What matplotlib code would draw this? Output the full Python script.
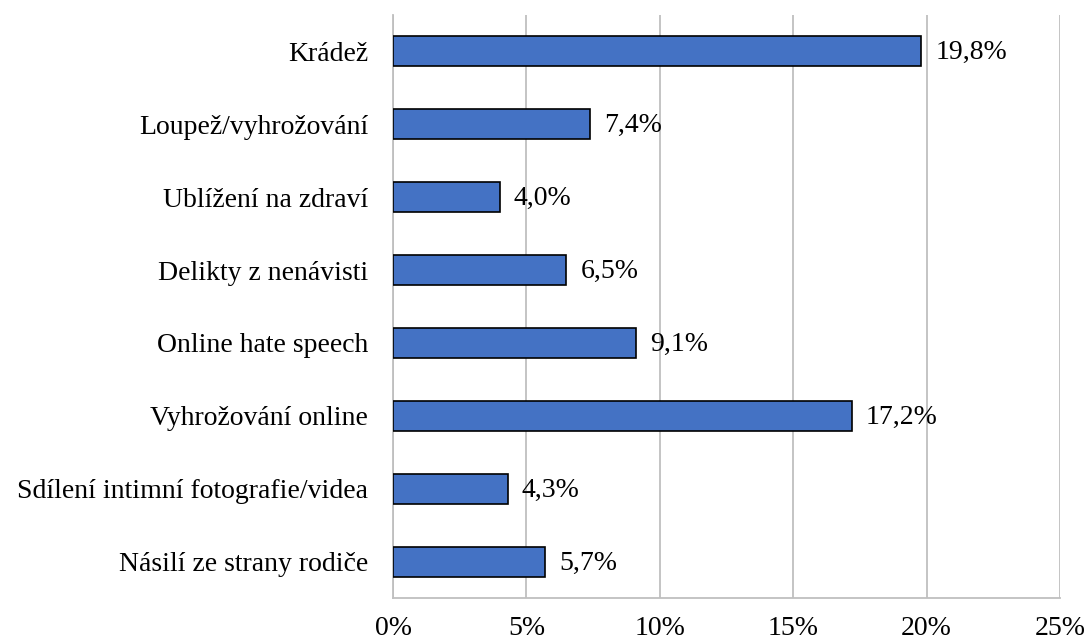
import matplotlib.pyplot as plt
from matplotlib.ticker import FuncFormatter

categories = [
    "Krádež",
    "Loupež/vyhrožování",
    "Ublížení na zdraví",
    "Delikty z nenávisti",
    "Online hate speech",
    "Vyhrožování online",
    "Sdílení intimní fotografie/videa",
    "Násilí ze strany rodiče",
]
values = [19.8, 7.4, 4.0, 6.5, 9.1, 17.2, 4.3, 5.7]
ticks = [0, 5, 10, 15, 20, 25]

plt.rcParams['font.family'] = ['Liberation Serif', 'DejaVu Serif']

fig = plt.figure(figsize=(10.88, 6.39), dpi=100)
ax = fig.add_axes([393 / 1088, 41 / 639, 667 / 1088, 583 / 639])

y = list(range(len(categories)))
ax.barh(y, values, height=0.41, color="#4472C4", edgecolor="black", linewidth=1.2, zorder=3)
for yi, v in zip(y, values):
    ax.annotate(f"{v:.1f}%".replace(".", ","), (v, yi), xytext=(10, -1),
                textcoords="offset points", va="center", ha="left", fontsize=20)

ax.set_xlim(0, 25)
ax.set_ylim(len(categories) - 0.5, -0.5)
ax.set_yticks(y)
ax.set_yticklabels(categories, fontsize=20)
ax.set_xticks(ticks)
ax.xaxis.set_major_formatter(FuncFormatter(lambda x, p: f"{x:.0f}%"))
ax.tick_params(axis="x", labelsize=20, length=0, pad=13)
ax.tick_params(axis="y", length=0, pad=18)
ax.grid(axis="x", color="#BFBFBF", linewidth=1.3, zorder=0)
for s in ["top", "right"]:
    ax.spines[s].set_visible(False)
for s in ["left", "bottom"]:
    ax.spines[s].set_color("#BFBFBF")
    ax.spines[s].set_linewidth(1.3)

fig.savefig("out.png", dpi=100)
